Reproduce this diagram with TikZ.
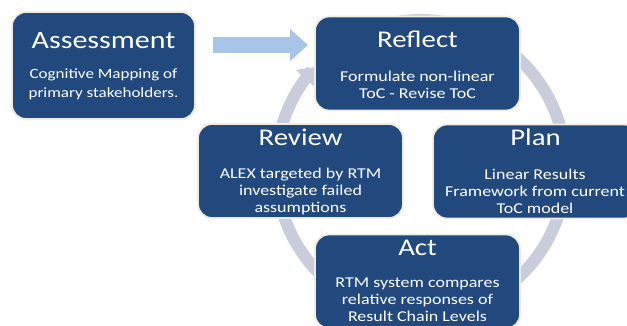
\documentclass[tikz,border=0pt]{standalone}
\usepackage{fontspec}
\setmainfont{Carlito}
\newfontfamily\wideface[FakeStretch=1.2]{Carlito}
\usetikzlibrary{arrows.meta}
\definecolor{boxblue}{HTML}{21497E}
\definecolor{boxedge}{HTML}{EFEDE3}
\definecolor{ringgray}{HTML}{C9CDDB}
\definecolor{arrowblue}{HTML}{A8C4E6}
\tikzset{
  box/.style={draw=boxedge, line width=1.8pt, fill=boxblue, rounded corners=14pt, minimum width=205pt, minimum height=94pt, inner sep=0pt},
  ttl/.style={text=white, font=\wideface\fontsize{24}{28}\selectfont, inner sep=0pt, anchor=base},
  bodytext/.style={text=white, font=\wideface\fontsize{15}{16.8}\selectfont, align=center, inner sep=0pt, anchor=base},
  ring/.style={draw=ringgray, line width=12pt, -{Triangle[width=24pt,length=15pt]}},
  blockarrow/.style={draw=arrowblue, line width=16pt, -{Triangle[width=31pt,length=18pt]}}
}
\begin{document}
\begin{tikzpicture}[x=1pt,y=-1pt]
\useasboundingbox (0,0) rectangle (627,325);
\clip (0,0) rectangle (627,325);
\fill[white] (0,0) rectangle (627,325);
% cycle ring
\coordinate (c) at (421,168);
\begin{scope}[shift={(c)}]
\draw[ring] plot[domain=120:-223, samples=120, smooth] ({145*cos(\x)},{-148*sin(\x)});
\end{scope}
% boxes
\node[box, minimum width=183pt, minimum height=107pt] (assess) at (103.5,65.5) {};
\node[box] (reflect) at (417.5,63.5) {};
\node[box] (review) at (300.5,171) {};
\node[box] (plan) at (535.5,171.5) {};
\node[box] (act) at (417.5,281.5) {};
% block arrow
\coordinate (a1) at (213,45);
\coordinate (a2) at (308,45);
\draw[blockarrow] (a1) -- (a2);
% titles
\node[ttl, font=\wideface\fontsize{25}{29}\selectfont] (t1) at (103.5,48.5) {Assessment};
\node[ttl] (t2) at (417.5,47) {Reflect};
\node[ttl] (t3) at (300.5,145) {Review};
\node[ttl] (t4) at (535.5,145) {Plan};
\node[ttl] (t5) at (417.5,255) {Act};
% bodies (anchor = baseline of last line)
\node[bodytext, font=\wideface\fontsize{14.2}{18.7}\selectfont] (b1) at (103.5,97) {Cognitive Mapping of\\primary stakeholders.};
\node[bodytext, font=\wideface\fontsize{15}{17}\selectfont] (b2) at (417.5,98) {Formulate non-linear\\ToC - Revise ToC};
\node[bodytext] (b3) at (300.5,212) {ALEX targeted by RTM\\investigate failed\\assumptions};
\node[bodytext] (b4) at (535,213) {Linear Results\\Framework from current\\ToC model};
\node[bodytext] (b5) at (417.5,321) {RTM system compares\\relative responses of\\Result Chain Levels};
\end{tikzpicture}
\end{document}
